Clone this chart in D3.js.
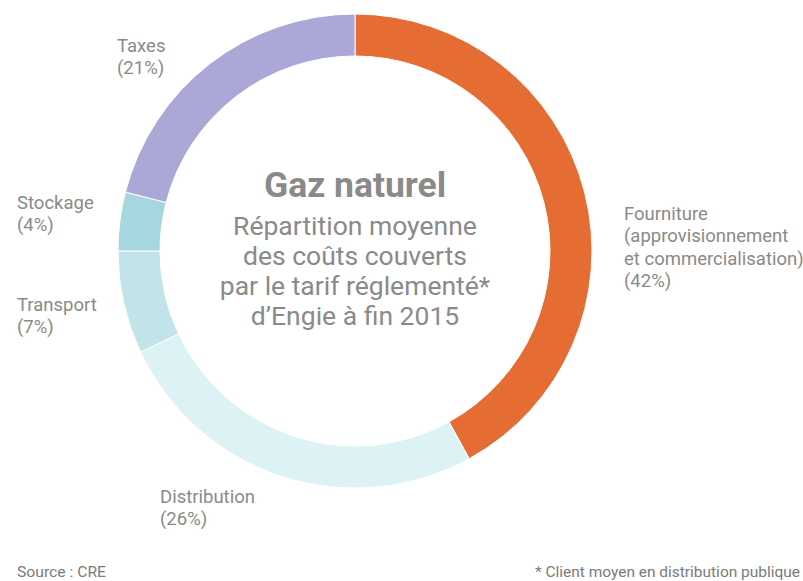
<!DOCTYPE html>
<html lang="fr">
<head>
<meta charset="UTF-8">
<title>Gaz naturel</title>
<script src="https://d3js.org/d3.v7.min.js"></script>
<style>
    body { margin: 0; background: #fff; font-family: Roboto, 'Noto Sans', Arial, sans-serif; }
    .lbl { font-size: 18.5px; fill: #8a8a8a; }
    .center { fill: #8a8a8a; text-anchor: middle; }
    .foot { font-size: 14.5px; fill: #7a7a7a; }
</style>
</head>
<body>
<svg width="803" height="581"></svg>
<script>
    // data
    const categories = ["Fourniture", "Distribution", "Transport", "Stockage", "Taxes"];
    const shares = [42, 26, 7, 4, 21];
    const colors = ["#e56d33", "#ddf2f5", "#c0e4ea", "#a6d7e1", "#aba8d8"];
    const labelLines = [
        ["Fourniture", "(approvisionnement", "et commercialisation)", "(42%)"],
        ["Distribution", "(26%)"],
        ["Transport", "(7%)"],
        ["Stockage", "(4%)"],
        ["Taxes", "(21%)"]
    ];
    const labelPos = [[624, 220], [160, 503], [17, 311], [17, 209], [117, 52]];

    const svg = d3.select("svg");
    const cx = 355, cy = 251, outerR = 237, innerR = 195;

    const pie = d3.pie().sort(null).value(d => d.value);
    const arc = d3.arc().innerRadius(innerR).outerRadius(outerR);
    const data = categories.map((c, i) => ({ name: c, value: shares[i], color: colors[i] }));

    const g = svg.append("g").attr("transform", `translate(${cx},${cy})`);
    g.selectAll("path")
        .data(pie(data))
        .enter()
        .append("path")
        .attr("d", arc)
        .attr("fill", d => d.data.color)
        .attr("stroke", "#fff")
        .attr("stroke-width", 1);

    // segment labels
    labelLines.forEach((lines, i) => {
        const t = svg.append("text")
            .attr("class", "lbl")
            .attr("x", labelPos[i][0])
            .attr("y", labelPos[i][1]);
        lines.forEach((l, j) => {
            t.append("tspan")
                .attr("x", labelPos[i][0])
                .attr("dy", j === 0 ? 0 : 22.3)
                .text(l);
        });
    });

    // centre title
    svg.append("text").attr("class", "center")
        .attr("x", cx).attr("y", 197)
        .style("font-size", "35.5px").style("font-weight", "bold")
        .text("Gaz naturel");
    const sub = ["Répartition moyenne", "des coûts couverts", "par le tarif réglementé*", "d’Engie à fin 2015"];
    sub.forEach((s, i) => {
        svg.append("text").attr("class", "center")
            .attr("x", cx).attr("y", 235 + i * 30)
            .style("font-size", "26.5px")
            .text(s);
    });

    // footer
    svg.append("text").attr("class", "foot")
        .attr("x", 17).attr("y", 577)
        .attr("textLength", 89).attr("lengthAdjust", "spacingAndGlyphs")
        .text("Source : CRE");
    svg.append("text").attr("class", "foot")
        .attr("x", 535).attr("y", 577)
        .attr("textLength", 265).attr("lengthAdjust", "spacingAndGlyphs")
        .text("* Client moyen en distribution publique");
</script>
</body>
</html>
